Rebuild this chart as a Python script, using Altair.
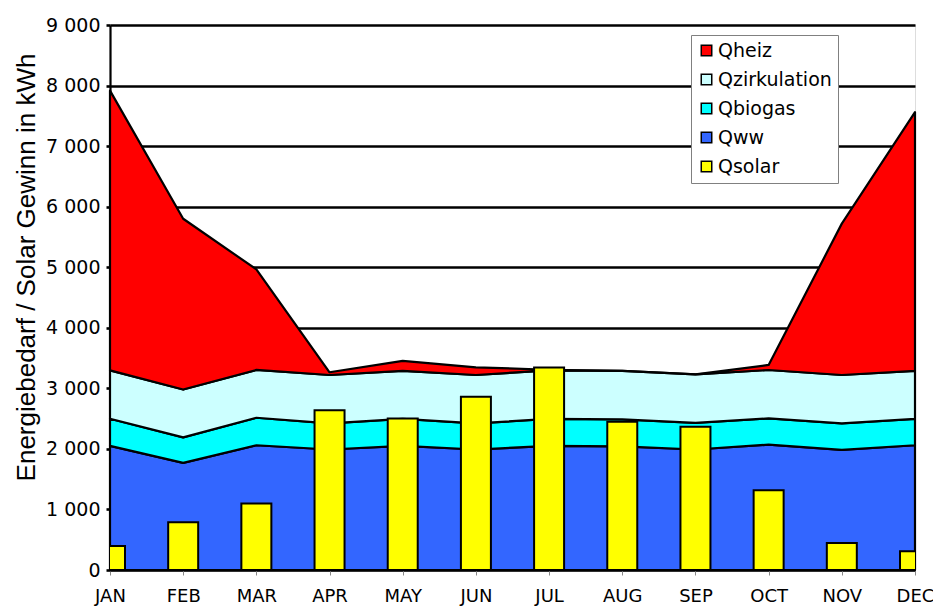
import altair as alt
import pandas as pd

months = ["JAN", "FEB", "MAR", "APR", "MAY", "JUN", "JUL", "AUG", "SEP", "OCT", "NOV", "DEC"]
qww = [2050, 1770, 2060, 1990, 2050, 1990, 2050, 2040, 1990, 2070, 1985, 2060]
qbiogas = [447, 420, 454, 430, 447, 430, 447, 447, 441, 433, 435, 437]
qzirkulation = [800, 790, 790, 800, 790, 800, 800, 800, 800, 800, 800, 790]
qheiz = [4620, 2820, 1660, 45, 165, 127, 10, 0, 0, 83, 2500, 4275]
qsolar = [396, 787, 1100, 2640, 2503, 2860, 3345, 2448, 2365, 1315, 446, 308]

series_names = ["Qheiz", "Qzirkulation", "Qbiogas", "Qww", "Qsolar"]
series_colors = ["#FF0000", "#CCFFFF", "#00FFFF", "#3366FF", "#FFFF00"]

rows = []
for name, vals, order in [("Qww", qww, 0), ("Qbiogas", qbiogas, 1),
                          ("Qzirkulation", qzirkulation, 2), ("Qheiz", qheiz, 3)]:
    for m, v in zip(months, vals):
        rows.append({"month": m, "series": name, "value": v, "ord": order})
area_df = pd.DataFrame(rows)
bar_df = pd.DataFrame({"month": months, "value": qsolar, "series": ["Qsolar"] * 12})

xenc = alt.X("month:N", sort=months, scale=alt.Scale(type="point", padding=0),
             axis=alt.Axis(title=None, labelAngle=0, labelFontSize=18, labelFont="DejaVu Sans",
                           labelColor="#000000", tickSize=5, tickColor="#888888", labelPadding=12,
                           domainColor="#000000", domainWidth=1.5, grid=False))

color = alt.Color("series:N",
                  scale=alt.Scale(domain=series_names, range=series_colors),
                  legend=alt.Legend(title=None, orient="none", legendX=581, legendY=10,
                                    fillColor="#FFFFFF", strokeColor="#808080", padding=6,
                                    symbolType="square", symbolSize=110, symbolStrokeColor="#000000",
                                    symbolStrokeWidth=1.5, labelFontSize=19, labelFont="DejaVu Sans",
                                    labelColor="#000000", rowPadding=9, labelOffset=2,
                                    labelLimit=200))

yaxis = alt.Axis(title="Energiebedarf / Solar Gewinn in kWh", values=list(range(0, 9001, 1000)),
                 labelExpr="replace(format(datum.value, ','), ',', ' ')",
                 labelFontSize=19, labelFont="DejaVu Sans", labelColor="#000000",
                 grid=True, gridColor="#000000", gridWidth=2.6,
                 tickSize=4, tickColor="#000000", tickWidth=2.6, labelPadding=6,
                 domainColor="#000000", domainWidth=2.2,
                 titleFont="Liberation Sans", titleFontSize=26,
                 titleFontWeight="normal", titleColor="#000000",
                 titleX=-76, titleY=242, titleAngle=270, titleAlign="center",
                 titleBaseline="alphabetic")

areas = alt.Chart(area_df).mark_area(stroke="#000000", strokeWidth=2.2, strokeJoin="round").encode(
    x=xenc,
    y=alt.Y("sum(value):Q", stack="zero", scale=alt.Scale(domain=[0, 9000], nice=False), axis=yaxis),
    color=color,
    order=alt.Order("ord:Q", sort="ascending"),
)

bars = alt.Chart(bar_df).mark_bar(size=30, stroke="#000000", strokeWidth=2, clip=True).encode(
    x=xenc,
    y=alt.Y("value:Q"),
    color=color,
)

chart = alt.layer(areas, bars).properties(
    width=805, height=545, autosize="none",
    padding={"left": 102, "top": 17, "right": 18, "bottom": 38},
).configure_view(stroke=None).configure(background="#FFFFFF")

chart.save("out.html", embed_options={"renderer": "svg", "actions": False})
